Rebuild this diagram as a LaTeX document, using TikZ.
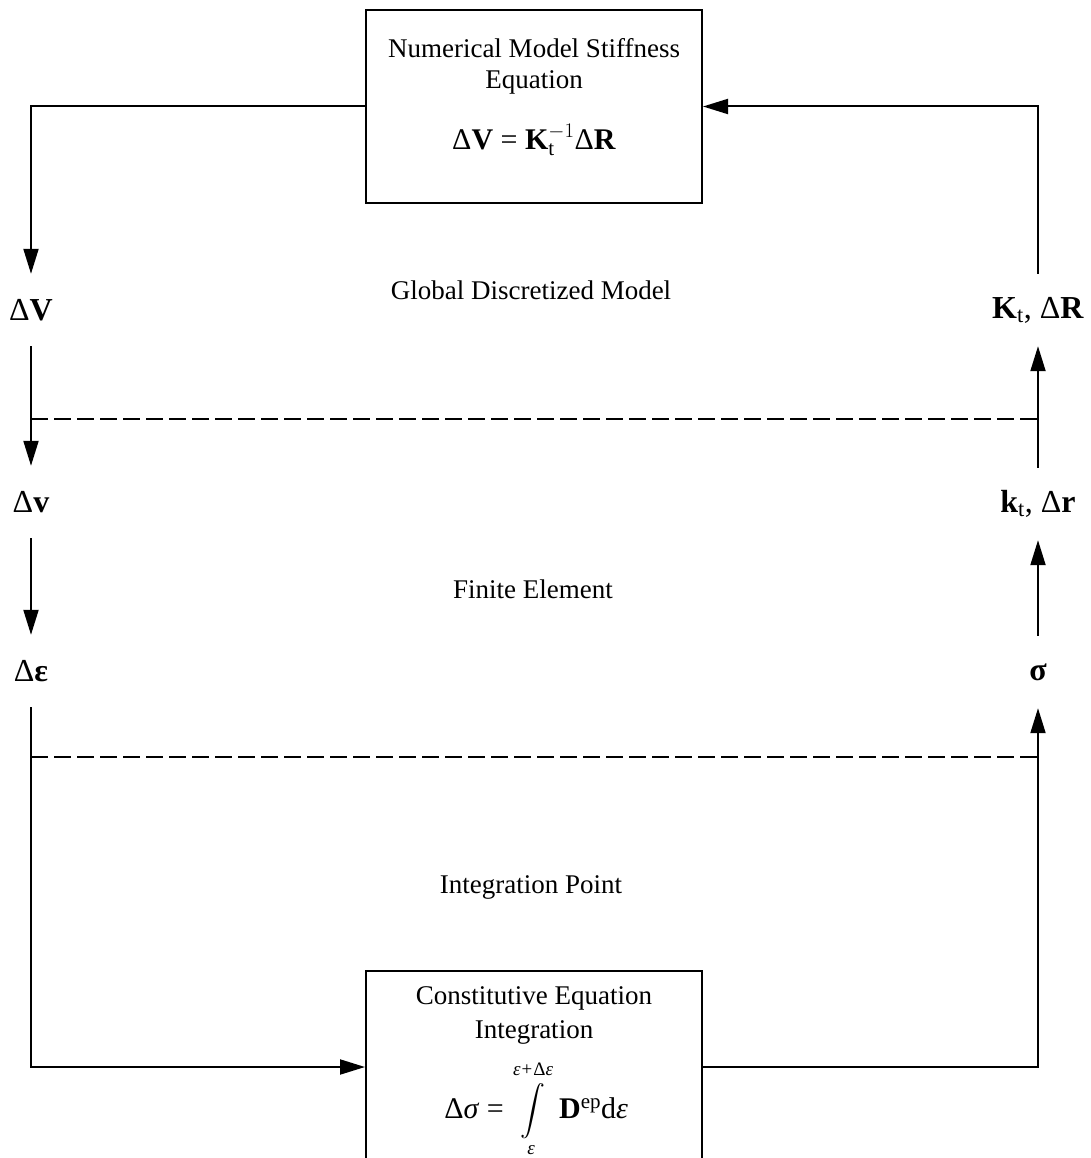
\documentclass[tikz,border=0pt]{standalone}
\usepackage{amsmath}
\usepackage{fontspec}
\setmainfont{Liberation Serif}
\usetikzlibrary{arrows.meta}
\begin{document}
\begin{tikzpicture}[x=1pt,y=-1pt,
  txt/.style={inner sep=0pt,font=\fontsize{27}{32}\selectfont},
  ftxt/.style={inner sep=0pt,font=\fontsize{30}{34}\selectfont},
  inttxt/.style={inner sep=0pt,font=\fontsize{25}{30}\selectfont},
  limtxt/.style={inner sep=0pt,font=\fontsize{19}{22}\selectfont\itshape},
  lbl/.style={inner sep=0pt,minimum height=72pt,font=\fontsize{32}{36}\selectfont},
  boxstyle/.style={draw,line width=2pt,minimum width=336pt,inner sep=0pt},
  conn/.style={line width=2pt},
  arr/.style={conn,-{Triangle[length=25pt,width=15pt]}},
  sep/.style={line width=2pt,dash pattern=on 17pt off 6pt}]
\useasboundingbox (0,0) rectangle (1091,1158);
% boxes
\node[boxstyle,minimum height=193pt] (nbox) at (534,106.5) {};
\node[txt] (n1) at (534,48) {Numerical Model Stiffness};
\node[txt] (n2) at (534,82) {Equation};
\node[ftxt] (nf) at (534,140) {Δ\textbf{V} = $\textbf{K}_{\text{t}}^{-1}$Δ\textbf{R}};
\node[boxstyle,minimum height=192pt] (cbox) at (534,1067) {};
\node[txt] (c1) at (534,998) {Constitutive Equation};
\node[txt] (c2) at (534,1032) {Integration};
% constitutive formula
\node[ftxt,anchor=base east] (cfa) at (504,1118) {Δ\textit{σ} =};
\node[inttxt] (cint) at (533,1111) {$\displaystyle\int$};
\node[limtxt] (cup) at (533,1069) {ε+{\upshape Δ}ε};
\node[limtxt] (clo) at (531,1150) {ε};
\node[ftxt,anchor=base west] (cfb) at (559,1118) {\textbf{D}$^{\text{ep}}$d\textit{ε}};
% region labels
\node[txt] (g1) at (531,290) {Global Discretized Model};
\node[txt] (g2) at (533,589) {Finite Element};
\node[txt] (g3) at (531,887) {Integration Point};
% left labels
\node[lbl] (dV) at (31,310) {Δ\textbf{V}};
\node[lbl] (dv) at (31,502) {Δ\textbf{v}};
\node[lbl] (de) at (31,671) {Δ\textbf{ε}};
% right labels
\node[lbl] (KR) at (1038,310) {$\textbf{K}_{\text{t}}$, Δ\textbf{R}};
\node[lbl] (kr) at (1038,504) {$\textbf{k}_{\text{t}}$, Δ\textbf{r}};
\node[lbl] (sg) at (1038,672) {\textbf{σ}};
% connectors
\draw[arr] (nbox.west) -| (dV.north);
\draw[arr] (dV.south) -- (dv.north);
\draw[arr] (dv.south) -- (de.north);
\draw[arr] (de.south) |- (cbox.west);
\draw[arr] (cbox.east) -| (sg.south);
\draw[arr] (sg.north) -- (kr.south);
\draw[arr] (kr.north) -- (KR.south);
\draw[arr] (KR.north) |- (nbox.east);
% separators
\coordinate (s1a) at (31,419);
\coordinate (s1b) at (1038,419);
\coordinate (s2a) at (31,757);
\coordinate (s2b) at (1038,757);
\draw[sep] (s1a) -- (s1b);
\draw[sep] (s2a) -- (s2b);
\end{tikzpicture}
\end{document}
